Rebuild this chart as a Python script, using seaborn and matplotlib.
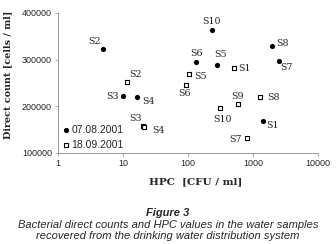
import pandas as pd
import seaborn as sns
import matplotlib.pyplot as plt
from matplotlib.ticker import FixedLocator, NullLocator

# data
sitios_1 = ['S1', 'S2', 'S3', 'S4', 'S5', 'S6', 'S7', 'S8', 'S10']
hpc_1 = [1420, 4.9, 10, 16.4, 280, 133, 2500, 1960, 234]
cuenta_1 = [168000, 323000, 221000, 219000, 289000, 294000, 298000, 330000, 364000]

sitios_2 = ['S1', 'S2', 'S3', 'S4', 'S5', 'S6', 'S7', 'S8', 'S9', 'S10']
hpc_2 = [510, 11.5, 20, 21, 104, 93, 810, 1290, 590, 310]
cuenta_2 = [283000, 253000, 157000, 155000, 270000, 245000, 132000, 219000, 204000, 196000]

fecha_1 = '07.08.2001'
fecha_2 = '18.09.2001'

# label offsets in pixels (dx right, dy down)
off_1 = {'S1': (10, 4), 'S2': (-8, -7), 'S3': (-10, 0), 'S4': (11, 4), 'S5': (4, -10),
         'S6': (1, -9), 'S7': (8, 7), 'S8': (11, -2), 'S10': (0, -8)}
off_2 = {'S1': (11, 1), 'S2': (8, -7), 'S3': (-7, -8), 'S4': (15, 3), 'S5': (11, 3),
         'S6': (-1, 8), 'S7': (-11, 1), 'S8': (13, 0), 'S9': (0, -8), 'S10': (3, 11)}

df1 = pd.DataFrame({'HPC': hpc_1, 'Count': cuenta_1, 'Site': sitios_1})
df2 = pd.DataFrame({'HPC': hpc_2, 'Count': cuenta_2, 'Site': sitios_2})

sns.set_style('white')
plt.rcParams['font.family'] = ['Liberation Sans', 'DejaVu Sans']

fig = plt.figure(figsize=(3.36, 2.44), dpi=100)
ax = fig.add_axes([0.173, 0.373, 0.773, 0.574])

sns.scatterplot(data=df1, x='HPC', y='Count', ax=ax, marker='o', color='black',
                s=14, edgecolor='black', linewidth=0, label=fecha_1)
sns.scatterplot(data=df2, x='HPC', y='Count', ax=ax, marker='s', color='white',
                s=11, edgecolor='black', linewidth=0.8, label=fecha_2)

ax.set_xscale('log')
ax.set_xlim(1, 10000)
ax.set_ylim(100000, 400000)
ax.xaxis.set_major_locator(FixedLocator([1, 10, 100, 1000, 10000]))
ax.xaxis.set_minor_locator(NullLocator())
ax.set_xticklabels(['1', '10', '100', '1000', '10000'])
ax.set_yticks([100000, 200000, 300000, 400000])
ax.set_yticklabels(['100000', '200000', '300000', '400000'])
ax.tick_params(axis='both', labelsize=6.5, length=2.5, width=0.6, color='#999999',
               direction='out', pad=2, bottom=True, left=True)

for lado in ['top', 'right']:
    ax.spines[lado].set_visible(False)
for lado in ['left', 'bottom']:
    ax.spines[lado].set_color('#999999')
    ax.spines[lado].set_linewidth(0.7)

px = 0.72
for df, off in [(df1, off_1), (df2, off_2)]:
    for _, fila in df.iterrows():
        dx, dy = off[fila['Site']]
        ax.annotate(fila['Site'], (fila['HPC'], fila['Count']),
                    xytext=(dx * px, -dy * px), textcoords='offset points',
                    ha='center', va='center', fontsize=6.8, family='DejaVu Serif')

ax.set_xlabel('HPC  [CFU / ml]', family='DejaVu Serif', fontweight='bold',
              fontsize=7.5)
ax.set_ylabel('Direct count [cells / ml]', family='DejaVu Serif', fontweight='bold',
              fontsize=6.9)
ax.xaxis.set_label_coords(0.53, -0.17)
ax.yaxis.set_label_coords(-0.175, 0.56)

ax.legend(loc='lower left', frameon=False, fontsize=7.5, handletextpad=0.0,
          borderaxespad=0.2, labelspacing=0.45, handlelength=1.0,
          bbox_to_anchor=(-0.012, -0.022))

fig.text(0.5, 0.127, 'Figure 3', ha='center', va='center', fontsize=8,
         fontweight='bold', style='italic')
fig.text(0.5, 0.076, 'Bacterial direct counts and HPC values in the water samples',
         ha='center', va='center', fontsize=8, style='italic')
fig.text(0.5, 0.031, 'recovered from the drinking water distribution system',
         ha='center', va='center', fontsize=8, style='italic')

fig.savefig('out.png', dpi=100)
